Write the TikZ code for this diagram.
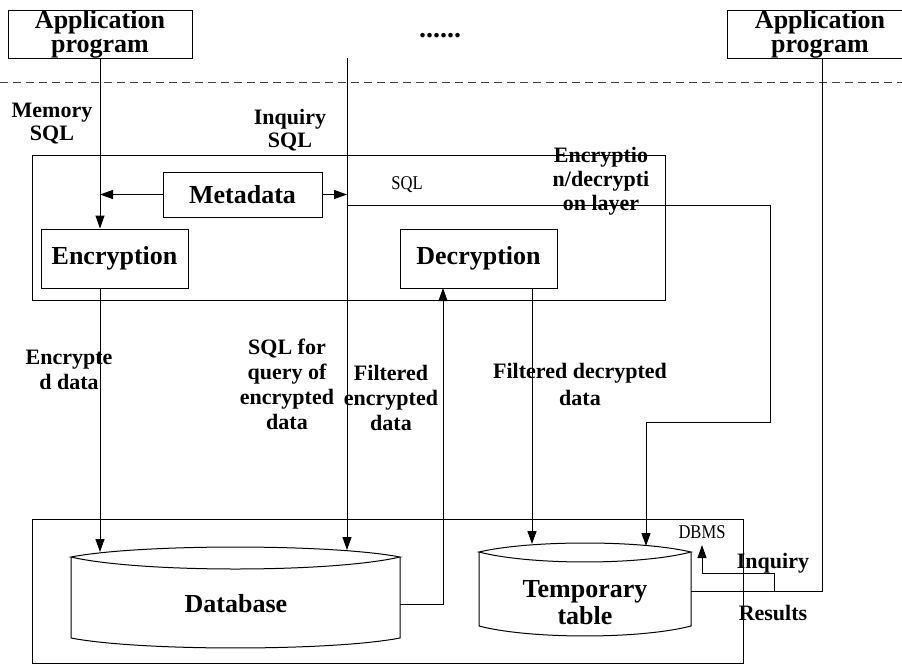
\documentclass[tikz,border=0pt]{standalone}
\usepackage{fontspec}
\setmainfont{Liberation Serif}
\newfontfamily\narrowserif[FakeStretch=0.85]{Liberation Serif}
\usetikzlibrary{arrows.meta}

\begin{document}
\begin{tikzpicture}[x=1pt,y=-1pt,
  line width=1pt,
  >={Triangle[length=13pt,width=9pt]},
  boxtxt/.style={font=\fontsize{26}{24}\selectfont\bfseries, align=center, inner sep=0pt},
  procbox/.style={draw, font=\fontsize{26}{24}\selectfont\bfseries, align=center, inner sep=0pt},
  lbl/.style={font=\fontsize{22}{25}\selectfont\bfseries, align=center, inner sep=0pt},
  smalltxt/.style={font=\fontsize{19.5}{20}\narrowserif, inner sep=0pt},
  frame/.style={draw, inner sep=0pt},
  sep/.style={draw=black!75, dash pattern=on 8pt off 5pt},
]
\useasboundingbox (0,0) rectangle (902,664);

% application programs and the separator
\node[procbox, minimum width=184pt, minimum height=48pt] (app1) at (100,34) {Application\\program};
\node[boxtxt] (app2) at (820,34) {Application\\program};
\draw (903,10) -- (727,10) -- (727,58) -- (903,58);
\node[font=\fontsize{28}{28}\selectfont\bfseries, inner sep=0pt] (dots) at (440,36) {......};
\coordinate (sepL) at (0,82);
\coordinate (sepR) at (902,82);
\draw[sep] (sepL) -- (sepR);

% encryption / decryption layer
\node[frame, minimum width=633pt, minimum height=145pt] (layer) at (348.5,227.5) {};
\node[procbox, minimum width=159pt, minimum height=45pt] (meta) at (242.5,194.5) {Metadata};
\node[procbox, minimum width=147pt, minimum height=59pt] (enc) at (114.5,258.5) {Encryption};
\node[procbox, minimum width=157pt, minimum height=59pt] (dec) at (478.5,258.5) {Decryption};

% DBMS
\node[frame, minimum width=711pt, minimum height=144pt] (dbms) at (387.5,591) {};

% database cylinder
\draw (71,557) .. controls (140,543.7) and (331,543.7) .. (400,557)
      .. controls (331,573) and (140,573) .. (71,557) -- cycle;
\draw (71,557) -- (71,638) .. controls (140,651.3) and (331,651.3) .. (400,638) -- (400,557);
\node[boxtxt] (db) at (236,604) {Database};

% temporary table cylinder
\draw (479,552) .. controls (530,540) and (640,540) .. (691,552)
      .. controls (640,565.3) and (530,565.3) .. (479,552) -- cycle;
\draw (479,552) -- (479,626) .. controls (530,639.3) and (640,639.3) .. (691,626) -- (691,552);
\node[boxtxt, font=\fontsize{26}{27}\selectfont\bfseries] (tmp) at (585,603) {Temporary\\table};

% named points for the connectors
\coordinate (qtop) at (347,58);
\coordinate (qdb) at (347,550);
\coordinate (edb) at (100,552);
\coordinate (dbout) at (400,604);
\coordinate (fup) at (443,288);
\coordinate (dtmp) at (532,544);
\coordinate (s1) at (770,205);
\coordinate (s2) at (770,422);
\coordinate (stmp) at (646,546);
\coordinate (r1) at (822,591);
\coordinate (tmpR) at (691,591);
\coordinate (b1) at (774,591);
\coordinate (b2) at (774,573);
\coordinate (b3) at (702,573);
\coordinate (dbmsIn) at (702,545);

% connectors
\draw[->] (app1.south) -- (app1.south |- enc.north);
\draw[->] (meta.west) -- (meta.west -| app1.south);
\draw[->] (qtop) -- (qdb);
\draw[->] (meta.east) -- (meta.east -| qtop);
\draw[->] (qtop |- s1) -- (s1) -- (s2) -| (stmp);
\draw[->] (enc.south -| edb) -- (edb);
\draw[->] (dbout) -| (fup);
\draw[->] (dec.south -| dtmp) -- (dtmp);
\draw (r1 |- 0,58) -- (r1) -- (tmpR);
\draw[->] (b1) -- (b2) -- (b3) -- (dbmsIn);

% labels
\node[lbl, font=\fontsize{22}{23}\selectfont\bfseries] (lmem) at (52,124) {Memory\\SQL};
\node[lbl, font=\fontsize{22}{23}\selectfont\bfseries] (linq) at (290,130) {Inquiry\\SQL};
\node[smalltxt] (lsql) at (407,185) {SQL};
\node[lbl, font=\fontsize{22}{24}\selectfont\bfseries] (llayer) at (601,181) {Encryptio\\n/decrypti\\on layer};
\node[lbl] (lenc) at (69,370) {Encrypte\\d data};
\node[lbl] (lquery) at (287,384) {SQL for\\query of\\encrypted\\data};
\node[lbl] (lfenc) at (391,398) {Filtered\\encrypted\\data};
\node[lbl, font=\fontsize{22}{27}\selectfont\bfseries] (lfdec) at (580,384) {Filtered decrypted\\data};
\node[smalltxt] (ldbms) at (702,532) {DBMS};
\node[lbl] (linquiry) at (773,563) {Inquiry};
\node[lbl] (lres) at (773,613) {Results};
\end{tikzpicture}
\end{document}
